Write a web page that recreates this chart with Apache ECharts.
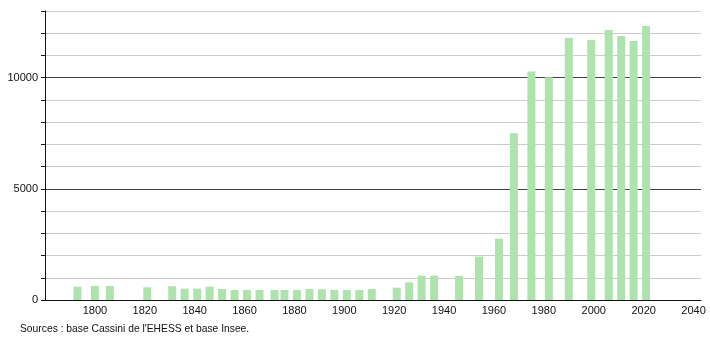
<!DOCTYPE html>
<html lang="fr">
<head>
    <meta charset="UTF-8">
    <title>Population</title>
    <style>
        html, body { margin: 0; padding: 0; background: #fff; }
        #chart { width: 710px; height: 340px; }
    </style>
    <script src="https://cdn.jsdelivr.net/npm/echarts@6/dist/echarts.min.js"></script>
</head>
<body>
<div id="chart"></div>
<script>
    // années des recensements
    var years = [1793, 1800, 1806, 1821, 1831, 1836, 1841, 1846, 1851, 1856,
        1861, 1866, 1872, 1876, 1881, 1886, 1891, 1896, 1901, 1906,
        1911, 1921, 1926, 1931, 1936, 1946, 1954, 1962, 1968, 1975,
        1982, 1990, 1999, 2006, 2011, 2016, 2021];
    // population
    var population = [600, 630, 630, 570, 620, 510, 510, 600, 495, 450,
        450, 450, 450, 450, 450, 495, 480, 450, 450, 450,
        495, 555, 795, 1095, 1095, 1080, 1950, 2760, 7500, 10280,
        10020, 11780, 11700, 12150, 11880, 11650, 12330];
    var xTicks = [1800, 1820, 1840, 1860, 1880, 1900, 1920, 1940, 1960, 1980, 2000, 2020, 2040];
    var yTicks = [0, 5000, 10000];

    var data = [];
    for (var i = 0; i < years.length; i++) {
        data.push([years[i], population[i]]);
    }

    var chart = echarts.init(document.getElementById('chart'));
    var font = 'Liberation Sans, Arial, sans-serif';
    var option = {
        animation: false,
        grid: { left: 45, right: 9, top: 11, bottom: 40 },
        xAxis: {
            type: 'value',
            min: 1780,
            max: 2043,
            interval: 20,
            axisLine: { lineStyle: { color: '#111', width: 1 } },
            axisTick: { show: false },
            splitLine: { show: false },
            axisLabel: {
                color: '#111', fontSize: 11, fontFamily: font, margin: 5,
                formatter: function (v) { return xTicks.indexOf(v) >= 0 ? String(v) : ''; }
            }
        },
        yAxis: {
            type: 'value',
            min: 0,
            max: 13000,
            interval: 1000,
            axisLine: { show: true, lineStyle: { color: '#111', width: 1 } },
            axisTick: { show: true, length: 4, lineStyle: { color: '#111' } },
            splitLine: {
                lineStyle: { color: ['#444', '#ccc', '#ccc', '#ccc', '#ccc'], width: 1 }
            },
            axisLabel: {
                color: '#111', fontSize: 11, fontFamily: font, margin: 7,
                formatter: function (v) { return yTicks.indexOf(v) >= 0 ? String(v) : ''; }
            }
        },
        series: [{
            type: 'bar',
            data: data,
            barWidth: 8,
            itemStyle: { color: '#aee3ae' }
        }],
        graphic: [{
            type: 'text',
            left: 20,
            top: 324,
            style: {
                text: "Sources : base Cassini de l'EHESS et base Insee.",
                fill: '#111',
                font: '10.3px ' + font
            }
        }]
    };
    chart.setOption(option);
</script>
</body>
</html>
